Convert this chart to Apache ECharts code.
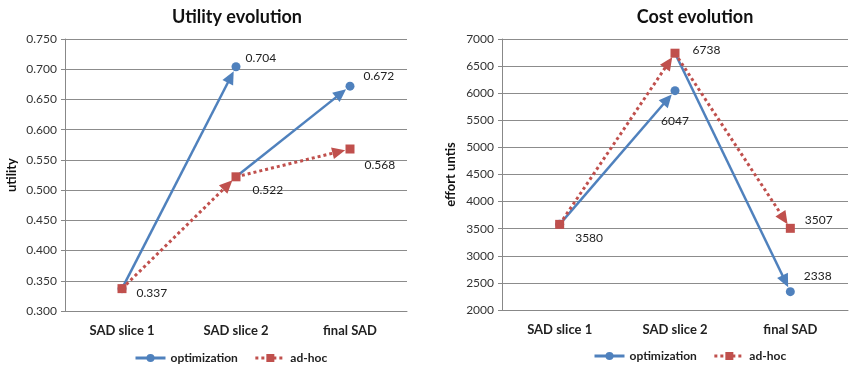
<!DOCTYPE html>
<html><head><meta charset="utf-8">
<script src="https://cdn.jsdelivr.net/npm/echarts@6/dist/echarts.min.js"></script>
<style>html,body{margin:0;padding:0;background:#fff}#c{width:849px;height:368px}</style>
</head><body><div id="c"></div>
<script>
const categories = ['SAD slice 1', 'SAD slice 2', 'final SAD'];
// Utility evolution
const utilOptStep1 = [0.337, 0.704, null];
const utilOptStep2 = [null, 0.522, 0.672];
const utilAdhoc = [0.337, 0.522, 0.568];
const utilTicks = { min: 0.3, max: 0.75, interval: 0.05 };
// Cost evolution
const costOptStep1 = [3580, 6047, null];
const costOptStep2 = [null, 6738, 2338];
const costAdhoc = [3580, 6738, 3507];
const costTicks = { min: 2000, max: 7000, interval: 500 };

const BLUE = '#4F81BD', RED = '#C0504D';
const FONT = 'Lato, "Open Sans", sans-serif';

function labelled(values, offsets) {
  return values.map((v, i) => {
    if (v == null) return null;
    const o = offsets[i];
    if (!o) return { value: v, label: { show: false } };
    return { value: v, label: { show: true, position: o.pos || 'right', offset: o.off || [0, 0], distance: o.dist == null ? 5 : o.dist } };
  });
}
function hideSymbolAt(arr, idx) {
  return arr.map((d, i) => (d && i === idx) ? Object.assign({}, d, { symbol: 'none' }) : d);
}
// consecutive non-null points -> [x0, y0, x1, y1] in data space (x = category index)
function segments(values) {
  const out = [];
  for (let i = 0; i < values.length - 1; i++) {
    if (values[i] != null && values[i + 1] != null) out.push([i, values[i], i + 1, values[i + 1]]);
  }
  return out;
}
function lineSeries(name, data, color, symbol, gi) {
  return {
    type: 'line', name, data, xAxisIndex: gi, yAxisIndex: gi, z: 5,
    symbol, symbolSize: 9, connectNulls: false,
    itemStyle: { color }, lineStyle: { opacity: 0, width: 0 },
    label: { color: '#222', fontSize: 12, fontFamily: FONT },
    animation: false
  };
}
function arrowSeries(segs, color, dashed, gi) {
  return {
    type: 'custom', xAxisIndex: gi, yAxisIndex: gi, z: 3, silent: true, animation: false,
    encode: { x: [0, 2], y: [1, 3] },
    data: segs,
    renderItem: (params, api) => {
      const p0 = api.coord([api.value(0), api.value(1)]);
      const p1 = api.coord([api.value(2), api.value(3)]);
      const dx = p1[0] - p0[0], dy = p1[1] - p0[1];
      const len = Math.hypot(dx, dy);
      const ux = dx / len, uy = dy / len, nx = -uy, ny = ux;
      const gap = 5, head = 13, half = 6;
      const tip = [p1[0] - ux * gap, p1[1] - uy * gap];
      const base = [tip[0] - ux * head, tip[1] - uy * head];
      return {
        type: 'group',
        children: [
          { type: 'line', shape: { x1: p0[0], y1: p0[1], x2: base[0] + ux * 2, y2: base[1] + uy * 2 },
            style: { stroke: color, lineWidth: dashed ? 3 : 2.5, lineDash: dashed ? [3, 3] : null, fill: null } },
          { type: 'polygon', shape: { points: [tip, [base[0] + nx * half, base[1] + ny * half], [base[0] - nx * half, base[1] - ny * half]] },
            style: { fill: color, stroke: null } }
        ]
      };
    }
  };
}

const utilOffsets = {
  s1: [null, { off: [0, -9] }, null],
  s2: [null, null, { off: [4, -10] }],
  ad: [{ off: [5, 4] }, { off: [7, 13] }, { off: [5, 16] }]
};
const costOffsets = {
  s1: [null, { pos: 'bottom', dist: 20 }, null],
  s2: [null, null, { off: [4, -16] }],
  ad: [{ off: [6, 14] }, { off: [8, -3] }, { off: [5, -8] }]
};

const yAxisBase = (t, gi, name, fmt, gap) => ({
  type: 'value', gridIndex: gi, min: t.min, max: t.max, interval: t.interval,
  name, nameLocation: 'middle', nameGap: gap, nameRotate: 90,
  nameTextStyle: { fontWeight: 'bold', fontSize: 13, color: '#111', fontFamily: FONT },
  axisLine: { show: true, lineStyle: { color: '#888' } },
  axisTick: { show: true, length: 4, lineStyle: { color: '#888' } },
  axisLabel: { formatter: fmt, color: '#333', fontSize: 12, fontFamily: FONT, margin: 8 },
  splitLine: { show: true, lineStyle: { color: '#8c8c8c', width: 1 } }
});
const xAxisBase = (gi) => ({
  type: 'category', gridIndex: gi, data: categories, boundaryGap: true,
  axisLine: { show: true, lineStyle: { color: '#888' } },
  axisTick: { show: false },
  axisLabel: { color: '#222', fontWeight: 'bold', fontSize: 13, fontFamily: FONT, margin: 13 }
});

const legendData = [
  { name: 'optimization', lineStyle: { opacity: 1, width: 3, color: BLUE }, itemStyle: { color: BLUE } },
  { name: 'ad-hoc', lineStyle: { opacity: 1, width: 3, type: [3, 3], color: RED }, itemStyle: { color: RED } }
];
const legendCommon = { data: legendData, itemWidth: 30, itemHeight: 10, itemGap: 16, textStyle: { fontSize: 12, fontWeight: 'bold', color: '#222', fontFamily: FONT } };

const option = {
  backgroundColor: '#fff',
  textStyle: { fontFamily: FONT },
  title: [
    { text: 'Utility evolution', left: 232, top: 3, textAlign: 'center', textStyle: { fontSize: 18, fontWeight: 'bold', color: '#111', fontFamily: FONT } },
    { text: 'Cost evolution', left: 690, top: 3, textAlign: 'center', textStyle: { fontSize: 18, fontWeight: 'bold', color: '#111', fontFamily: FONT } }
  ],
  legend: [
    Object.assign({ left: 129, top: 347 }, legendCommon),
    Object.assign({ left: 588, top: 345 }, legendCommon)
  ],
  grid: [
    { left: 65, right: 442, top: 39, bottom: 57 },
    { left: 502, right: 1, top: 39, bottom: 58 }
  ],
  xAxis: [xAxisBase(0), xAxisBase(1)],
  yAxis: [
    yAxisBase(utilTicks, 0, 'utility', v => v.toFixed(3), 47),
    yAxisBase(costTicks, 1, 'effort untis', v => String(v), 45)
  ],
  series: [
    arrowSeries(segments(utilOptStep1), BLUE, false, 0),
    arrowSeries(segments(utilOptStep2), BLUE, false, 0),
    arrowSeries(segments(utilAdhoc), RED, true, 0),
    lineSeries('optimization', labelled(utilOptStep1, utilOffsets.s1), BLUE, 'circle', 0),
    lineSeries('optimization', hideSymbolAt(labelled(utilOptStep2, utilOffsets.s2), 1), BLUE, 'circle', 0),
    lineSeries('ad-hoc', labelled(utilAdhoc, utilOffsets.ad), RED, 'rect', 0),
    arrowSeries(segments(costOptStep1), BLUE, false, 1),
    arrowSeries(segments(costOptStep2), BLUE, false, 1),
    arrowSeries(segments(costAdhoc), RED, true, 1),
    lineSeries('optimization', labelled(costOptStep1, costOffsets.s1), BLUE, 'circle', 1),
    lineSeries('optimization', hideSymbolAt(labelled(costOptStep2, costOffsets.s2), 1), BLUE, 'circle', 1),
    lineSeries('ad-hoc', labelled(costAdhoc, costOffsets.ad), RED, 'rect', 1)
  ]
};
const chart = echarts.init(document.getElementById('c'), null, { renderer: 'canvas' });
chart.setOption(option);
</script></body></html>
